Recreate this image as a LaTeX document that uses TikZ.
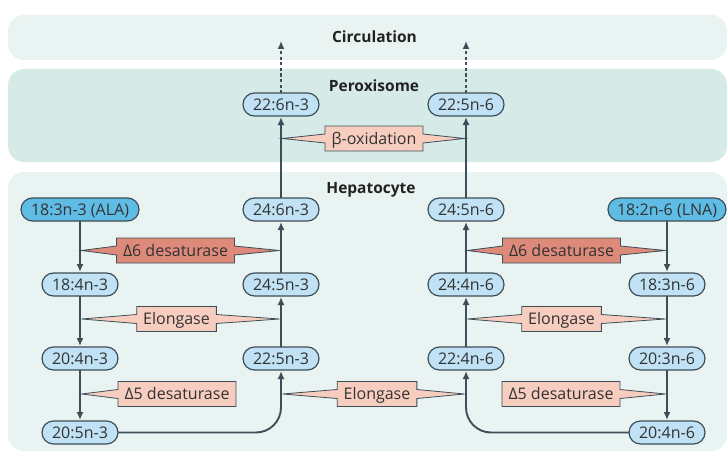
\documentclass[tikz,border=0pt]{standalone}
\usepackage{fontspec}
\setmainfont{Open Sans}
\usetikzlibrary{arrows.meta,calc}
\definecolor{cEAF4F2}{RGB}{233,244,242}
\definecolor{cD6EBE8}{RGB}{214,235,232}
\definecolor{cBEE1F3}{RGB}{192,226,244}
\definecolor{c5FBCE4}{RGB}{95,188,228}
\definecolor{cF7CDC0}{RGB}{247,205,192}
\definecolor{cDE8A7A}{RGB}{222,138,122}
\definecolor{c3E4E58}{RGB}{62,78,88}
\definecolor{c333333}{RGB}{51,51,51}
\definecolor{c222222}{RGB}{34,34,34}
\pgfdeclarelayer{bands}
\pgfdeclarelayer{boxes}
\pgfsetlayers{bands,boxes,main}

\begin{document}
\begin{tikzpicture}[y=1pt, x=1pt, yscale=-1, inner sep=0pt, outer sep=0pt,
  fa/.style={draw=c3E4E58, line width=1.2pt, fill=cBEE1F3, rounded corners=11.5pt,
    minimum width=76pt, minimum height=23pt, text height=11.6pt, text depth=0pt,
    font=\fontsize{16}{16}\selectfont, text=c333333},
  fa0/.style={fa, fill=c5FBCE4, minimum width=118pt},
  enz/.style={minimum height=25pt, inner xsep=6.5pt, text height=11.6pt, text depth=0pt,
    font=\fontsize{16}{16}\selectfont, text=c333333},
  callout/.style={draw=c3E4E58, line width=0.8pt, fill=cF7CDC0, line join=miter},
  callout6/.style={callout, fill=cDE8A7A},
  flow/.style={draw=c3E4E58, line width=1.9pt, -{Latex[length=8pt,width=7pt]}, shorten >=1pt},
  place/.style={font=\bfseries\fontsize{15.5}{15.5}\selectfont, text=c222222,
    text height=11pt, text depth=0pt}]
  \useasboundingbox (0,0) rectangle (728,452);

  % compartments
  \begin{pgfonlayer}{bands}
  \path[fill=white] (0,0) rectangle (728,452);
  \path[fill=cEAF4F2, rounded corners=16pt] (8,15) rectangle (727,60);
  \path[fill=cD6EBE8, rounded corners=16pt] (8,69) rectangle (727,162);
  \path[fill=cEAF4F2, rounded corners=16pt] (8,172) rectangle (727,451);
  \end{pgfonlayer}
  \node[place] (circ) at (374.5,37.5) {Circulation};
  \node[place] (perox) at (374,86.5) {Peroxisome};
  \node[place] (hepat) at (371,188) {Hepatocyte};

  % fatty acids, n-3
  \node[fa0] (ala) at (80,209.5) {18:3n-3 (ALA)};
  \node[fa] (fa18-4n3) at (80,284.5) {18:4n-3};
  \node[fa] (fa20-4n3) at (80,358.5) {20:4n-3};
  \node[fa] (fa20-5n3) at (80,432.5) {20:5n-3};
  \node[fa] (fa22-5n3) at (281,358.5) {22:5n-3};
  \node[fa] (fa24-5n3) at (281,284.5) {24:5n-3};
  \node[fa] (fa24-6n3) at (281,209.5) {24:6n-3};
  \node[fa] (fa22-6n3) at (281,104.5) {22:6n-3};
  % fatty acids, n-6
  \node[fa0] (lna) at (667,209.5) {18:2n-6 (LNA)};
  \node[fa] (fa18-3n6) at (667,284.5) {18:3n-6};
  \node[fa] (fa20-3n6) at (667,358.5) {20:3n-6};
  \node[fa] (fa20-4n6) at (667,432.5) {20:4n-6};
  \node[fa] (fa22-4n6) at (466,358.5) {22:4n-6};
  \node[fa] (fa24-4n6) at (466,284.5) {24:4n-6};
  \node[fa] (fa24-5n6) at (466,209.5) {24:5n-6};
  \node[fa] (fa22-5n6) at (466,104.5) {22:5n-6};
  \coordinate (out3) at (281,40);
  \coordinate (out6) at (466,40);

  % pathway arrows
  \draw[flow] (ala) -- (fa18-4n3);
  \draw[flow] (fa18-4n3) -- (fa20-4n3);
  \draw[flow] (fa20-4n3) -- (fa20-5n3);
  \draw[flow, rounded corners=25pt] (fa20-5n3) -| (fa22-5n3);
  \draw[flow] (fa22-5n3) -- (fa24-5n3);
  \draw[flow] (fa24-5n3) -- (fa24-6n3);
  \draw[flow] (fa24-6n3) -- (fa22-6n3);
  \draw[flow, dash pattern=on 3pt off 2.5pt] (fa22-6n3) -- (out3);
  \draw[flow] (lna) -- (fa18-3n6);
  \draw[flow] (fa18-3n6) -- (fa20-3n6);
  \draw[flow] (fa20-3n6) -- (fa20-4n6);
  \draw[flow, rounded corners=25pt] (fa20-4n6) -| (fa22-4n6);
  \draw[flow] (fa22-4n6) -- (fa24-4n6);
  \draw[flow] (fa24-4n6) -- (fa24-5n6);
  \draw[flow] (fa24-5n6) -- (fa22-5n6);
  \draw[flow, dash pattern=on 3pt off 2.5pt] (fa22-5n6) -- (out6);

  % enzymes
  \node[enz] (box) at (374,138.5) {β-oxidation};
  \node[enz] (d6l) at (175.5,250.5) {Δ6 desaturase};
  \node[enz] (ell) at (176.5,319) {Elongase};
  \node[enz] (d5l) at (177,394) {Δ5 desaturase};
  \node[enz] (elm) at (377,394) {Elongase};
  \node[enz] (d6r) at (561.5,250.5) {Δ6 desaturase};
  \node[enz] (elr) at (561.5,319) {Elongase};
  \node[enz] (d5r) at (561,394) {Δ5 desaturase};
  \begin{pgfonlayer}{boxes}
  \path[callout] (box.north west) -- (box.north east) -- ($(box.east)+(0,-4.5)$)
    -- ($(box.east -| fa22-5n6)+(-1.5,0)$) -- ($(box.east)+(0,4.5)$) -- (box.south east)
    -- (box.south west) -- ($(box.west)+(0,4.5)$) -- ($(box.west -| fa22-6n3)+(1.5,0)$)
    -- ($(box.west)+(0,-4.5)$) -- cycle;
  \path[callout6] (d6l.north west) -- (d6l.north east) -- ($(d6l.east)+(0,-4.5)$)
    -- ($(d6l.east -| fa24-6n3)+(-1.5,0)$) -- ($(d6l.east)+(0,4.5)$) -- (d6l.south east)
    -- (d6l.south west) -- ($(d6l.west)+(0,4.5)$) -- ($(d6l.west -| ala)+(1.5,0)$)
    -- ($(d6l.west)+(0,-4.5)$) -- cycle;
  \path[callout] (ell.north west) -- (ell.north east) -- ($(ell.east)+(0,-4.5)$)
    -- ($(ell.east -| fa24-5n3)+(-1.5,0)$) -- ($(ell.east)+(0,4.5)$) -- (ell.south east)
    -- (ell.south west) -- ($(ell.west)+(0,4.5)$) -- ($(ell.west -| ala)+(1.5,0)$)
    -- ($(ell.west)+(0,-4.5)$) -- cycle;
  \path[callout] (d5l.north west) -- (d5l.north east) -- (d5l.south east)
    -- (d5l.south west) -- ($(d5l.west)+(0,4.5)$) -- ($(d5l.west -| ala)+(1.5,0)$)
    -- ($(d5l.west)+(0,-4.5)$) -- cycle;
  \path[callout] (elm.north west) -- (elm.north east) -- ($(elm.east)+(0,-4.5)$)
    -- ($(elm.east -| fa22-4n6)+(-1.5,0)$) -- ($(elm.east)+(0,4.5)$) -- (elm.south east)
    -- (elm.south west) -- ($(elm.west)+(0,4.5)$) -- ($(elm.west -| fa22-5n3)+(1.5,0)$)
    -- ($(elm.west)+(0,-4.5)$) -- cycle;
  \path[callout6] (d6r.north west) -- (d6r.north east) -- ($(d6r.east)+(0,-4.5)$)
    -- ($(d6r.east -| lna)+(-1.5,0)$) -- ($(d6r.east)+(0,4.5)$) -- (d6r.south east)
    -- (d6r.south west) -- ($(d6r.west)+(0,4.5)$) -- ($(d6r.west -| fa24-5n6)+(1.5,0)$)
    -- ($(d6r.west)+(0,-4.5)$) -- cycle;
  \path[callout] (elr.north west) -- (elr.north east) -- ($(elr.east)+(0,-4.5)$)
    -- ($(elr.east -| lna)+(-1.5,0)$) -- ($(elr.east)+(0,4.5)$) -- (elr.south east)
    -- (elr.south west) -- ($(elr.west)+(0,4.5)$) -- ($(elr.west -| fa24-4n6)+(1.5,0)$)
    -- ($(elr.west)+(0,-4.5)$) -- cycle;
  \path[callout] (d5r.north west) -- (d5r.north east) -- ($(d5r.east)+(0,-4.5)$)
    -- ($(d5r.east -| lna)+(-1.5,0)$) -- ($(d5r.east)+(0,4.5)$) -- (d5r.south east)
    -- (d5r.south west) -- cycle;
  \end{pgfonlayer}
\end{tikzpicture}
\end{document}
